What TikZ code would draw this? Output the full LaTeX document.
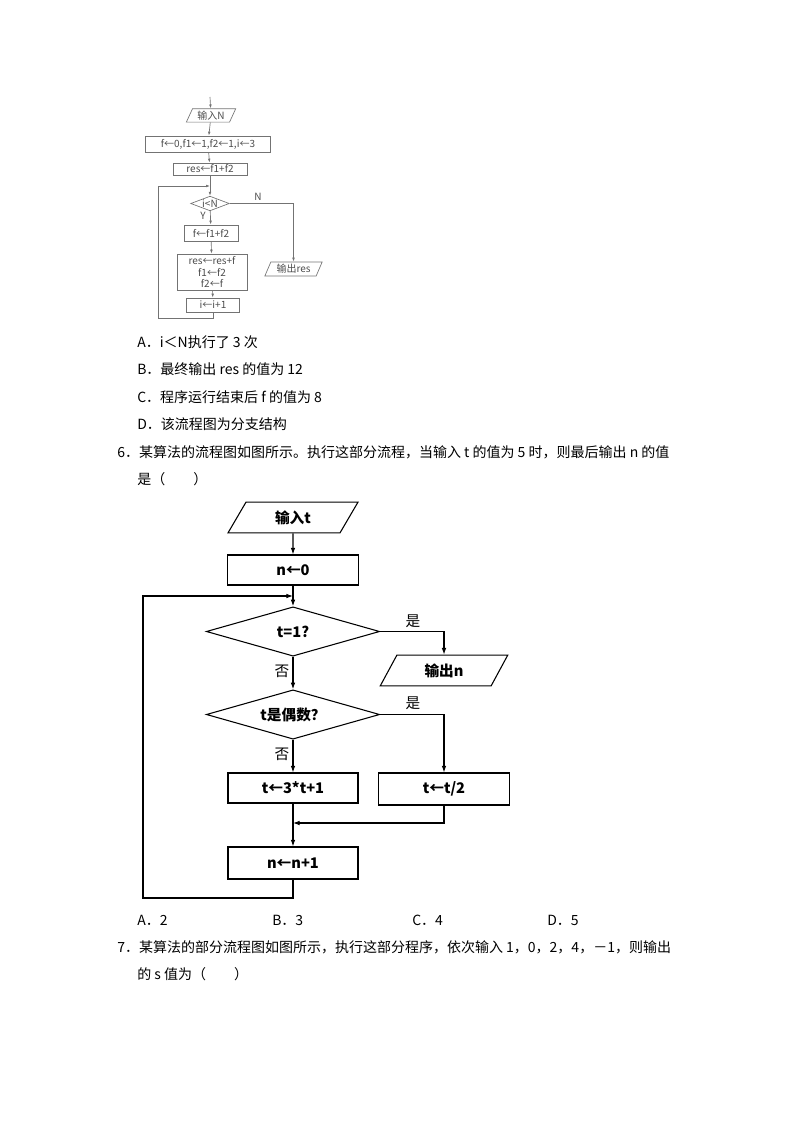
\documentclass[tikz,border=0pt]{standalone}
\usepackage{fontspec}
\setmainfont{Liberation Serif}
\newfontfamily\cjk{Noto Sans CJK SC}
\usepackage{tikz}
\usetikzlibrary{shapes.geometric,arrows.meta}

\tikzset{
  box/.style={draw,rectangle,inner sep=0pt},
  io/.style={draw,trapezium,trapezium left angle=64,trapezium right angle=116,trapezium stretches=true,inner sep=0pt},
  cond/.style={draw,diamond,inner sep=0pt},
  txt/.style={anchor=west,inner sep=0pt,font=\cjk\fontsize{10.5pt}{12pt}\selectfont},
  small/.style={font=\cjk\fontsize{7.5pt}{8.5pt}\selectfont,text=black!70},
  big/.style={font=\cjk\bfseries\fontsize{11pt}{13pt}\selectfont},
  yn/.style={font=\cjk\fontsize{11pt}{13pt}\selectfont},
  arr/.style={-{Latex[length=5pt,width=3.5pt]}},
  sarr/.style={-{Latex[length=3pt,width=2pt]}},
}

\begin{document}
\begin{tikzpicture}[x=0.75pt,y=-0.75pt]
    \useasboundingbox (0,0) rectangle (794,1123);
    % upper chart
    \begin{scope}[draw=black!55,line width=0.5pt,every node/.append style={small}]
    \coordinate (topIn) at (210,97);
    \node[io,minimum width=37pt,minimum height=10pt] (inN) at (211,115.5) {输入N};
    \node[box,minimum width=94pt,minimum height=12pt] (init) at (208,144) {f←0,f1←1,f2←1,i←3};
    \node[box,minimum width=55.5pt,minimum height=9pt] (res0) at (210,169) {res←f1+f2};
    \node[cond,aspect=2.6,minimum width=29pt,minimum height=11pt] (iN) at (210,203.5) {i<N};
    \node[box,minimum width=40.5pt,minimum height=12pt] (fSum) at (211,233) {f←f1+f2};
    \node[box,align=center,minimum width=52.5pt,minimum height=27pt] (upd) at (212,272) {res←res+f\\f1←f2\\f2←f};
    \node[box,minimum width=40pt,minimum height=10.5pt] (inc) at (213,305) {i←i+1};
    \node[io,minimum width=43pt,minimum height=10.5pt] (outRes) at (293.5,269) {输出res};
    \node (labY) at (203,216) {Y};
    \node (labN) at (258,197) {N};
    \coordinate (loopA) at (158,318);
    \coordinate (loopB) at (210,186);
    \draw[sarr] (topIn) -- (inN);
    \draw[sarr] (inN) -- (init);
    \draw[sarr] (init) -- (res0);
    \draw[sarr] (res0) -- (iN);
    \draw[sarr] (iN) -- (fSum);
    \draw[sarr] (fSum) -- (upd);
    \draw[sarr] (upd) -- (inc);
    \draw[sarr] (iN.east) -| (outRes.north);
    \draw[sarr] (inc.south) |- (loopA) |- (loopB);
    \end{scope}

    % options and question 6
    \node[txt] (optA) at (137,342) {A．i＜N执行了 3 次};
    \node[txt] (optB) at (137,369) {B．最终输出 res 的值为 12};
    \node[txt] (optC) at (137,397) {C．程序运行结束后 f 的值为 8};
    \node[txt] (optD) at (137,424) {D．该流程图为分支结构};
    \node[txt] (q6) at (117,452) {6．某算法的流程图如图所示。执行这部分流程，当输入 t 的值为 5 时，则最后输出 n 的值};
    \node[txt] (q6b) at (137,479) {是（\quad\quad）};

    % lower chart
    \begin{scope}[line width=0.8pt,every node/.append style={big}]
    \node[io,minimum width=97.5pt,minimum height=23pt] (inT) at (293,517.5) {输入t};
    \node[box,minimum width=98pt,minimum height=22.5pt] (nZero) at (293,570) {n←0};
    \node[cond,aspect=3.5,minimum width=130pt,minimum height=37pt] (isOne) at (293,631.5) {t=1?};
    \node[io,minimum width=96pt,minimum height=23pt] (outN) at (444,670.5) {输出n};
    \node[cond,aspect=3.5,minimum width=130pt,minimum height=37pt] (isEven) at (293,714.5) {t是偶数？};
    \node[box,minimum width=97.5pt,minimum height=22.5pt] (tOdd) at (293,788) {t←3*t+1};
    \node[box,minimum width=98pt,minimum height=24pt] (tEven) at (444,789) {t←t/2};
    \node[box,minimum width=97.5pt,minimum height=24pt] (nInc) at (293,863) {n←n+1};
    \node[yn] (yes1) at (413,621) {是};
    \node[yn] (no1) at (282,671) {否};
    \node[yn] (yes2) at (413,703) {是};
    \node[yn] (no2) at (282,754) {否};
    \coordinate (merge) at (293,823);
    \coordinate (loopC) at (143,898);
    \coordinate (loopD) at (293,596);
    \draw[arr] (inT) -- (nZero);
    \draw[arr] (nZero) -- (isOne);
    \draw[arr] (isOne.east) -| (outN.north);
    \draw[arr] (isOne) -- (isEven);
    \draw[arr] (isEven.east) -| (tEven.north);
    \draw[arr] (isEven) -- (tOdd);
    \draw[arr] (tOdd) -- (nInc);
    \draw[arr] (tEven.south) |- (merge);
    \draw[arr] (nInc.south) |- (loopC) |- (loopD);
    \end{scope}

    % answers and question 7
    \node[txt] (ansA) at (137,920) {A．2};
    \node[txt] (ansB) at (272,920) {B．3};
    \node[txt] (ansC) at (412,920) {C．4};
    \node[txt] (ansD) at (547,920) {D．5};
    \node[txt] (q7) at (117,947) {7．某算法的部分流程图如图所示，执行这部分程序，依次输入 1，0，2，4，－1，则输出};
    \node[txt] (q7b) at (137,974) {的 s 值为（\quad\quad）};
\end{tikzpicture}
\end{document}
